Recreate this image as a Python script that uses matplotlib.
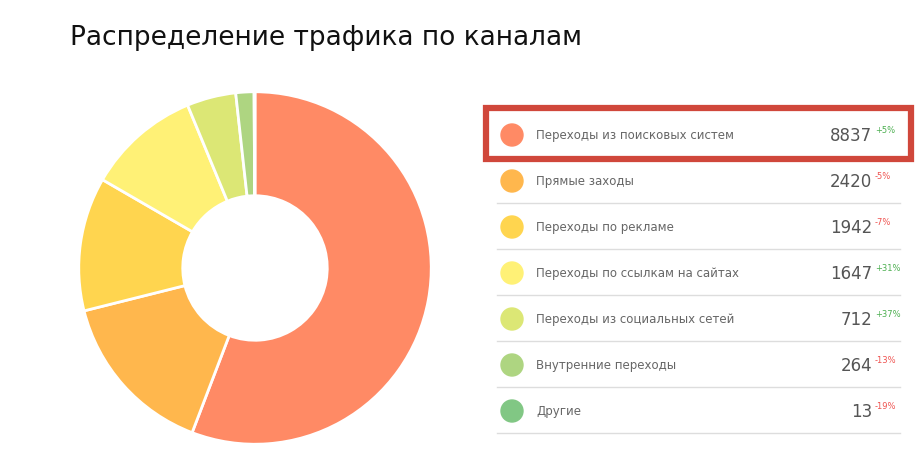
import matplotlib
matplotlib.use("Agg")
import matplotlib.pyplot as plt
from matplotlib.patches import Circle, Rectangle

labels = ["Переходы из поисковых систем", "Прямые заходы", "Переходы по рекламе",
          "Переходы по ссылкам на сайтах", "Переходы из социальных сетей",
          "Внутренние переходы", "Другие"]
values = [8837, 2420, 1942, 1647, 712, 264, 13]
changes = ["+5%", "-5%", "-7%", "+31%", "+37%", "-13%", "-19%"]
colors = ["#FF8A65", "#FFB74D", "#FFD54F", "#FFF176", "#DCE775", "#AED581", "#81C784"]

W, H = 922, 465
fig = plt.figure(figsize=(W / 100, H / 100), dpi=100)
plt.rcParams['font.family'] = ['DejaVu Sans']

# overlay axes in pixel coords
ov = fig.add_axes([0, 0, 1, 1])
ov.set_xlim(0, W); ov.set_ylim(H, 0); ov.axis("off")

ov.text(70, 38, "Распределение трафика по каналам", fontsize=19, color="#111111", va="center")

# donut
cx, cy, r = 255, 268, 178
pa = fig.add_axes([(cx - r) / W, (H - cy - r) / H, 2 * r / W, 2 * r / H])
pa.pie(values, colors=colors, startangle=90, counterclock=False,
       wedgeprops=dict(width=0.59, edgecolor="white", linewidth=2))
pa.set_xlim(-1.01, 1.01); pa.set_ylim(-1.01, 1.01)
pa.set_aspect("equal")

# legend table
y0, dy = 135, 46
for i, (lab, v, ch, c) in enumerate(zip(labels, values, changes, colors)):
    y = y0 + i * dy
    ov.add_patch(Circle((512, y), 11, color=c, zorder=3))
    ov.text(536, y, lab, fontsize=8.5, color="#666666", va="center")
    ov.text(872, y + 1, str(v), fontsize=12, color="#555555", va="center", ha="right")
    ov.text(875, y - 5, ch, fontsize=6,
            color="#4CAF50" if ch.startswith("+") else "#EF5350", va="center", ha="left")
    ov.plot([497, 900], [y + 22, y + 22], color="#dddddd", lw=1)

ov.add_patch(Rectangle((486, 108), 425, 51, fill=False, edgecolor="#D0473B", lw=4.5, zorder=4))

fig.savefig("out.png", dpi=100)
